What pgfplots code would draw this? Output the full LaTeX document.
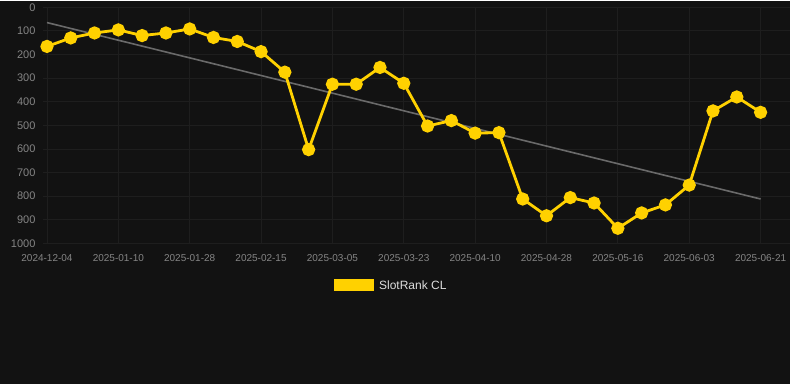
\documentclass[border=0pt]{standalone}
\usepackage{fontspec}
\setmainfont{Liberation Sans}
\usepackage{pgfplots}
\pgfplotsset{compat=1.18}
\definecolor{bg}{HTML}{121212}
\definecolor{gridc}{HTML}{1E1E1E}
\definecolor{slotyellow}{HTML}{FFD100}
\definecolor{trendc}{HTML}{6A6A6A}
\definecolor{ticklab}{HTML}{858585}
\definecolor{legtext}{HTML}{DDDDDD}
\begin{document}
\begin{tikzpicture}
\fill[bg] (0pt,0pt) rectangle (790pt,384pt);
\begin{axis}[
  at={(43pt,141pt)}, anchor=south west,
  scale only axis, width=747pt, height=236.3pt,
  xmin=-0.168, xmax=31.22,
  ymin=0, ymax=1000, y dir=reverse,
  axis line style={draw=none},
  major tick length=0pt,
  grid=major,
  major grid style={draw=gridc, line width=0.8pt},
  xtick={0,3,...,30},
  xticklabels={2024-12-04,2025-01-10,2025-01-28,2025-02-15,2025-03-05,2025-03-23,2025-04-10,2025-04-28,2025-05-16,2025-06-03,2025-06-21},
  ytick={0,100,...,1000},
  /pgf/number format/assume math mode=true,
  /pgf/number format/1000 sep={},
  x tick label style={font=\fontsize{10}{12}\selectfont, text=ticklab, yshift=-8pt},
  y tick label style={font=\fontsize{11}{13}\selectfont, text=ticklab, xshift=-4pt},
  legend style={at={(0.4665,-0.178)}, anchor=center, draw=none, fill=none,
     text=legtext, font=\fontsize{12}{14}\selectfont},
  legend cell align=left,
]
\addplot[trendc, line width=1.6pt, forget plot] coordinates {(0,65) (30,812)};
\addplot[slotyellow, line width=2.8pt, mark=*, mark size=5.2pt,
  mark options={fill=slotyellow, draw=none},
  legend image code/.code={\path[fill=slotyellow, draw=none] (0pt,-6pt) rectangle (40pt,6pt); \path[draw=none] (0pt,0pt) -- (43pt,0pt);}]
coordinates {
(0,166) (1,130) (2,109) (3,96) (4,120) (5,109) (6,92) (7,128) (8,145) (9,188)
(10,275) (11,603) (12,326) (13,326) (14,255) (15,322) (16,503) (17,480) (18,533) (19,531)
(20,812) (21,883) (22,806) (23,829) (24,936) (25,871) (26,837) (27,753) (28,439) (29,380) (30,445)
};
\addlegendentry{SlotRank CL}
\end{axis}
\end{tikzpicture}
\end{document}
